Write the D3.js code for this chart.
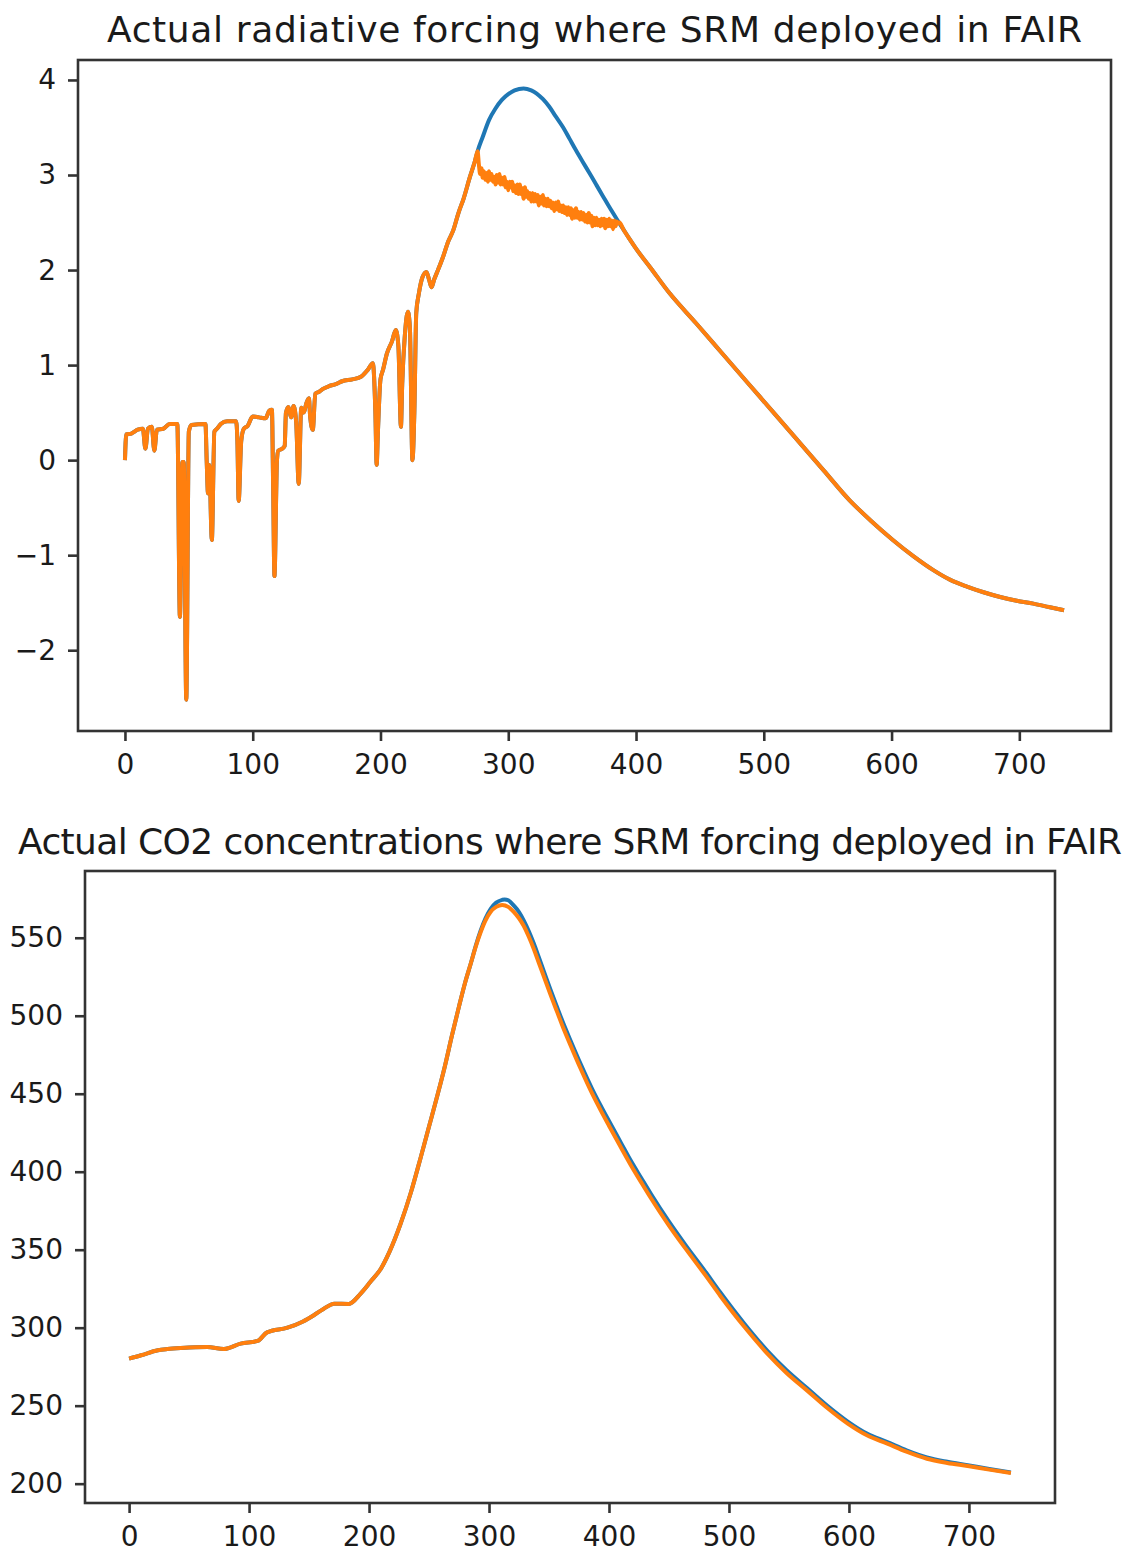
<!DOCTYPE html>
<html>
<head>
<meta charset="utf-8">
<script src="https://cdn.jsdelivr.net/npm/d3@7"></script>
<style>
  body { margin: 0; background: #fff; }
  svg { display: block; }
  text { font-family: "DejaVu Sans", sans-serif; fill: #1a1a1a; }
</style>
</head>
<body>
<div id="chart"></div>
<script>
// Radiative forcing (W/m2), shared history up to SRM deployment
const rfHistory = [
  [0, 0.0], [1, 0.27], [5, 0.28], [10, 0.32], [14, 0.33], [16, 0.12], [18, 0.33], [21, 0.35],
  [23, 0.1], [25, 0.32], [30, 0.33], [35, 0.38], [41, 0.38], [43, -1.65], [45, -0.02], [46, -0.02],
  [48, -2.52], [50, 0.3], [52, 0.37], [63, 0.38], [64, -0.02], [65, -0.35], [66, -0.05], [68, -0.84],
  [70, 0.3], [72, 0.33], [75, 0.38], [80, 0.41], [87, 0.41], [88, 0.2], [89, -0.43], [91, 0.2],
  [93, 0.33], [96, 0.36], [100, 0.46], [105, 0.45], [110, 0.44], [113, 0.52], [115, 0.53], [116, -0.3],
  [117, -1.22], [119, 0.0], [120, 0.1], [123, 0.12], [125, 0.15], [126, 0.5], [128, 0.56], [130, 0.45],
  [132, 0.57], [134, 0.4], [136, -0.25], [138, 0.55], [140, 0.5], [142, 0.6], [144, 0.65], [145, 0.45],
  [147, 0.32], [149, 0.7], [152, 0.72], [155, 0.75], [160, 0.78], [165, 0.8], [170, 0.83], [178, 0.85],
  [185, 0.88], [190, 0.95], [194, 1.02], [196, 0.5], [197, -0.05], [198, 0.3], [200, 0.85], [202, 0.95],
  [205, 1.12], [209, 1.25], [212, 1.37], [214, 1.2], [216, 0.35], [217, 0.8], [219, 1.3], [221.5, 1.56],
  [223, 1.4], [225, 0.0], [226.5, 0.5], [228, 1.55], [230, 1.75], [233, 1.93], [236, 1.98], [238, 1.9],
  [240, 1.82], [242, 1.9], [245, 2.0], [249, 2.14], [253, 2.3], [257, 2.42], [261, 2.6], [265, 2.75],
  [270, 2.98], [274, 3.15], [276, 3.25]
];
// no SRM: forcing peak
const rfPeak = [
  [276, 3.25], [280, 3.40], [285, 3.58], [290, 3.7], [295, 3.79], [300, 3.85], [305, 3.89], [312, 3.91],
  [318, 3.89], [322, 3.86], [327, 3.8], [332, 3.72], [337, 3.62], [343, 3.5], [348, 3.38], [353, 3.26],
  [358, 3.145], [364, 3.01], [369, 2.895], [374, 2.78], [379, 2.665], [385, 2.535], [390, 2.43],
  [395, 2.325], [400, 2.225]
];
// with SRM: forcing held down, noisy
const rfSrm = [
  [276, 3.25], [277, 3.11], [278, 3.01], [279, 3.07], [280, 2.97], [281, 3.04], [282, 2.95], [283, 3.02],
  [284, 2.93], [285, 3.04], [286, 2.95], [287, 3.01], [288, 2.93], [289, 2.98], [290, 2.9], [291, 3.0],
  [292, 2.92], [293, 3.01], [294, 2.9], [295, 2.97], [296, 2.9], [297, 2.98], [298, 2.87], [299, 2.93],
  [300, 2.84], [301, 2.93], [302, 2.87], [303, 2.93], [304, 2.83], [305, 2.89], [306, 2.81], [307, 2.9],
  [308, 2.8], [309, 2.9], [310, 2.8], [311, 2.86], [312, 2.75], [313, 2.87], [314, 2.77], [315, 2.83],
  [316, 2.75], [317, 2.81], [318, 2.72], [319, 2.81], [320, 2.72], [321, 2.8], [322, 2.72], [323, 2.79],
  [324, 2.68], [325, 2.77], [326, 2.7], [327, 2.79], [328, 2.68], [329, 2.75], [330, 2.67], [331, 2.75],
  [332, 2.67], [333, 2.73], [334, 2.65], [335, 2.71], [336, 2.62], [337, 2.71], [338, 2.64], [339, 2.72],
  [340, 2.62], [341, 2.68], [342, 2.61], [343, 2.68], [344, 2.6], [345, 2.66], [346, 2.58], [347, 2.66],
  [348, 2.58], [349, 2.65], [350, 2.54], [351, 2.63], [352, 2.55], [353, 2.65], [354, 2.55], [355, 2.61],
  [356, 2.53], [357, 2.61], [358, 2.53], [359, 2.6], [360, 2.51], [361, 2.58], [362, 2.5], [363, 2.6],
  [364, 2.5], [365, 2.57], [366, 2.46], [367, 2.55], [368, 2.47], [369, 2.55], [370, 2.47], [371, 2.53],
  [372, 2.46], [373, 2.54], [374, 2.47], [375, 2.54], [376, 2.44], [377, 2.53], [378, 2.46], [379, 2.54],
  [380, 2.46], [381, 2.52], [382, 2.43], [383, 2.52], [384, 2.46], [385, 2.51], [386, 2.49], [387, 2.5],
  [390, 2.43], [395, 2.325], [400, 2.225]
];
// shared decline after SRM ends
const rfTail = [
  [400, 2.225], [411, 2.03], [426, 1.76], [447, 1.44], [467, 1.13], [487, 0.82], [507, 0.51], [527, 0.2],
  [547, -0.11], [567, -0.42], [584, -0.64], [601, -0.84], [617, -1.01], [633, -1.16], [646, -1.26],
  [659, -1.33], [672, -1.39], [685, -1.44], [698, -1.48], [711, -1.51], [723, -1.545], [735, -1.58]
];

// CO2 concentrations (ppm)
const co2History = [
  [0, 280.2], [10, 282.3], [24, 285.5], [32, 286.3], [43, 287], [55, 287.5], [65, 287.6], [79, 286.3],
  [93, 289.8], [107, 291.5], [115, 297], [132, 300], [145, 304], [154, 308], [162, 312], [171, 315.4],
  [183, 315.2], [193, 321.9], [201, 329.3], [210, 338], [217, 348.6], [226, 366], [235, 387],
  [243, 409], [250, 429], [257, 449], [263, 467], [269, 487], [275, 506], [280, 521], [284.8, 533.5]
];
const co2NoSrm = [
  [284.8, 533.5], [289, 545], [293, 554.5], [297, 562.3], [301.4, 568.5], [306, 572.5], [311, 574.3],
  [313, 574.6], [316, 574], [320.8, 570.5], [325, 566.5], [329, 561], [333, 554.5], [337.5, 546],
  [341.5, 537.5], [345.8, 528.3], [351, 517.2], [357, 505], [362, 495], [368, 484], [376.4, 469],
  [386, 453], [393, 442.5], [400, 432.5], [410, 418.5], [418, 407.3], [427, 395.8], [435, 385.7],
  [450, 368], [464, 352.8], [480, 336.3], [493, 322.4], [513, 302.4], [532, 285.2], [548, 272.7],
  [565, 261.3], [582, 249.9], [599, 239.8], [615, 232.1], [632, 226.7], [648, 221.4], [665, 216.8],
  [682, 214], [699, 211.8], [717, 209.4], [735, 207.2]
];
const co2Srm = [
  [284.8, 533.5], [289, 544.5], [293, 553.5], [297, 561], [301.4, 566.7], [306, 569.8], [311, 571],
  [316, 569.8], [320.8, 566.5], [325, 562.5], [329, 557.5], [333, 551], [337.5, 542.5], [341.5, 534],
  [345.8, 525], [351, 514], [357, 502], [362, 492], [368, 481], [376.4, 466], [386, 450], [393, 439.5],
  [400, 429.5], [410, 415.5], [418, 404.5], [427, 393], [435, 383], [450, 365.5], [464, 350.5],
  [480, 334], [493, 320.2], [513, 300.4], [532, 283.4], [548, 271], [565, 259.8], [582, 248.5],
  [599, 238.5], [615, 231], [632, 225.7], [648, 220.5], [665, 216], [682, 213.3], [699, 211.3],
  [717, 209], [735, 206.8]
];

const rfTicks = [-2, -1, 0, 1, 2, 3, 4];
const co2Ticks = [200, 250, 300, 350, 400, 450, 500, 550];
const yearTicks = [0, 100, 200, 300, 400, 500, 600, 700];

const blue = "#1f77b4";
const orange = "#ff7f0e";

const svg = d3.select("#chart").append("svg")
  .attr("width", 1135)
  .attr("height", 1553);

function panel(opts) {
  const { box, yDomain, yTicks, title, titleY, titleWidth, series } = opts;

  const x = d3.scaleLinear().domain([-36.75, 771.75]).range([box.left, box.right]);
  const y = d3.scaleLinear().domain(yDomain).range([box.bottom, box.top]);

  const line = d3.line()
    .x(d => x(d[0]))
    .y(d => y(d[1]))
    .curve(d3.curveMonotoneX);

  series.forEach(s => {
    svg.append("path")
      .datum(s.data)
      .attr("fill", "none")
      .attr("stroke", s.color)
      .attr("stroke-width", 4)
      .attr("stroke-linejoin", "round")
      .attr("d", line);
  });

  const xAxis = svg.append("g")
    .attr("transform", `translate(0,${box.bottom})`)
    .call(d3.axisBottom(x).tickValues(yearTicks).tickSize(10).tickPadding(13).tickFormat(d3.format("d")));
  const yAxis = svg.append("g")
    .attr("transform", `translate(${box.left},0)`)
    .call(d3.axisLeft(y).tickValues(yTicks).tickSize(10).tickPadding(12)
      .tickFormat(d => d < 0 ? "\u2212" + Math.abs(d) : d));

  [xAxis, yAxis].forEach(g => {
    g.select(".domain").remove();
    g.selectAll("line").attr("stroke", "#333").attr("stroke-width", 2.6);
    g.selectAll("text").attr("font-size", 28).attr("fill", "#1a1a1a")
      .style("font-family", "'DejaVu Sans', sans-serif");
  });

  svg.append("rect")
    .attr("x", box.left).attr("y", box.top)
    .attr("width", box.right - box.left).attr("height", box.bottom - box.top)
    .attr("fill", "none").attr("stroke", "#333").attr("stroke-width", 2.6);

  svg.append("text")
    .attr("x", (box.left + box.right) / 2)
    .attr("y", titleY)
    .attr("text-anchor", "middle")
    .attr("font-size", 36)
    .attr("textLength", titleWidth)
    .attr("lengthAdjust", "spacing")
    .text(title);
}

panel({
  box: { left: 78, right: 1111, top: 60, bottom: 731 },
  yDomain: [-2.85, 4.21],
  yTicks: rfTicks,
  title: "Actual radiative forcing where SRM deployed in FAIR",
  titleY: 42,
  titleWidth: 975,
  series: [
    { data: rfHistory.concat(rfPeak.slice(1), rfTail.slice(1)), color: blue },
    { data: rfHistory.concat(rfSrm.slice(1), rfTail.slice(1)), color: orange }
  ]
});

panel({
  box: { left: 85, right: 1055, top: 871, bottom: 1503 },
  yDomain: [187.6, 592.8],
  yTicks: co2Ticks,
  title: "Actual CO2 concentrations where SRM forcing deployed in FAIR",
  titleY: 854,
  titleWidth: 1104,
  series: [
    { data: co2History.concat(co2NoSrm.slice(1)), color: blue },
    { data: co2History.concat(co2Srm.slice(1)), color: orange }
  ]
});
</script>
</body>
</html>
